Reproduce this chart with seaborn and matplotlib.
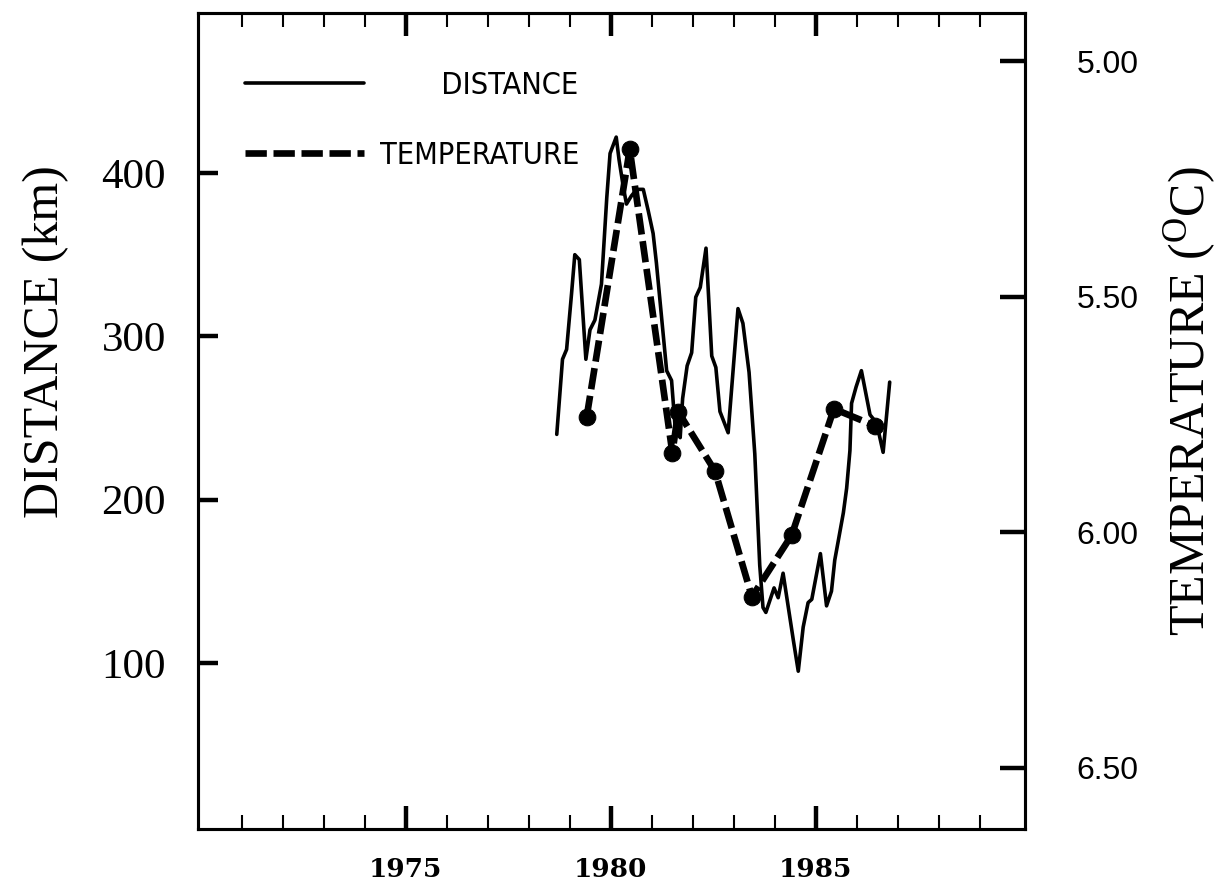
import numpy as np
import pandas as pd
import matplotlib
matplotlib.use('Agg')
import matplotlib.pyplot as plt
from matplotlib.lines import Line2D
from matplotlib.font_manager import FontProperties
import seaborn as sns

sns.set_style('white')
plt.rcParams['mathtext.fontset'] = 'custom'
plt.rcParams['mathtext.rm'] = 'Liberation Serif'
for k in ['text.color', 'axes.labelcolor', 'xtick.color', 'ytick.color', 'axes.edgecolor']:
    plt.rcParams[k] = 'black'

# distance series
years_dist = [1978.68, 1978.82, 1978.92, 1979.04, 1979.12, 1979.23, 1979.39, 1979.49, 1979.61, 1979.77,
              1979.90, 1979.98, 1980.13, 1980.20, 1980.30, 1980.38, 1980.50, 1980.63, 1980.79, 1980.91,
              1981.03, 1981.11, 1981.36, 1981.48, 1981.58, 1981.64, 1981.69, 1981.75, 1981.86, 1981.97,
              1982.07, 1982.18, 1982.32, 1982.46, 1982.56, 1982.66, 1982.86, 1983.10, 1983.22, 1983.37,
              1983.51, 1983.63, 1983.71, 1983.78, 1983.90, 1983.98, 1984.08, 1984.20, 1984.45, 1984.57,
              1984.69, 1984.81, 1984.90, 1985.02, 1985.11, 1985.26, 1985.38, 1985.46, 1985.54, 1985.67,
              1985.75, 1985.83, 1985.87, 1985.98, 1986.11, 1986.32, 1986.48, 1986.64, 1986.80]
distance_km = [240, 286, 292, 326, 350, 347, 286, 304, 310, 332,
               385, 412, 422, 408, 392, 381, 386, 390, 390, 377,
               363, 345, 279, 273, 240, 252, 238, 262, 282, 290,
               324, 330, 354, 288, 281, 254, 241, 317, 308, 278,
               228, 160, 134, 131, 140, 146, 140, 155, 114, 95,
               122, 137, 139, 155, 167, 135, 144, 163, 174, 192,
               207, 230, 259, 269, 279, 252, 247, 229, 272]

# temperature (annual points)
years_temp = [1979.41, 1980.46, 1981.50, 1981.64, 1982.54, 1983.44, 1984.41, 1985.44, 1986.44]
temperature_c = [5.755, 5.187, 5.832, 5.744, 5.870, 6.137, 6.006, 5.738, 5.774]

dist_ticks = [100, 200, 300, 400]
temp_ticks = [5.0, 5.5, 6.0, 6.5]
year_ticks = [1975, 1980, 1985]
minor_years = [y for y in range(1971, 1990) if y % 5 != 0]

dist_df = pd.DataFrame({'year': years_dist, 'distance': distance_km})
temp_df = pd.DataFrame({'year': years_temp, 'temp': temperature_c})

dash = (0, (3.2, 1.0))

fig = plt.figure(figsize=(12.23, 8.82), dpi=100)
ax = fig.add_axes([0.1619, 0.0601, 0.6762, 0.9252])
ax2 = ax.twinx()

sns.lineplot(data=dist_df, x='year', y='distance', ax=ax, color='black', lw=2.6,
             errorbar=None, legend=False)
sns.lineplot(data=temp_df, x='year', y='temp', ax=ax2, color='black', lw=4.8, linestyle=dash,
             marker='o', markersize=12, markerfacecolor='black', markeredgecolor='black',
             errorbar=None, legend=False)

ax.set_xlim(1969.93, 1990.1)
ax.set_ylim(-1.6, 498)
ax2.set_ylim(6.6295, 4.898)

ax.set_xticks(year_ticks)
ax.set_xticks(minor_years, minor=True)
ax.set_yticks(dist_ticks)
ax2.set_yticks(temp_ticks)
ax2.set_yticklabels(['%.2f' % t for t in temp_ticks])

ax.set_xlabel('')
ax.set_ylabel('DISTANCE (km)', fontsize=36, family='Liberation Serif')
ax2.set_ylabel(r'TEMPERATURE ($\mathregular{^O}$C)', fontsize=36, family='Liberation Serif')
ax.yaxis.set_label_coords(-0.184, 0.597)
ax.yaxis.label.set_va('center')
ax2.yaxis.set_label_coords(1.200, 0.524)
ax2.yaxis.label.set_va('center')
ax2.yaxis.label.set_rotation(90)

ax.tick_params(axis='x', which='major', direction='in', length=16.5, width=3.2,
               top=True, bottom=True, labelsize=19, pad=20)
ax.tick_params(axis='x', which='minor', direction='in', length=10, width=1.5, top=True, bottom=True)
ax.tick_params(axis='y', which='major', direction='in', length=14.4, width=3.2,
               left=True, right=False, labelsize=31, pad=23)
ax2.tick_params(axis='y', which='major', direction='in', length=18, width=3.2,
                right=True, left=False, labelsize=23, pad=37)

for lbl in ax.get_xticklabels():
    lbl.set_fontfamily('DejaVu Serif')
    lbl.set_fontweight('bold')
for lbl in ax.get_yticklabels():
    lbl.set_fontfamily('Liberation Serif')
for lbl in ax2.get_yticklabels():
    lbl.set_fontfamily('Liberation Sans')

for a in (ax, ax2):
    for sp in a.spines.values():
        sp.set_visible(True)
        sp.set_linewidth(2.2)
        sp.set_color('black')

# legend
h1 = Line2D([], [], color='black', lw=2.6)
h2 = Line2D([], [], color='black', lw=4.8, linestyle=dash)
legfont = FontProperties(family=['Liberation Sans Narrow', 'DejaVu Sans'], stretch='condensed', size=22)
ax2.legend([h1, h2], ['       DISTANCE', 'TEMPERATURE'], loc='upper left',
           bbox_to_anchor=(0.057, 0.929), frameon=False, borderaxespad=0, borderpad=0,
           handlelength=3.9, handletextpad=0.5, labelspacing=1.35, prop=legfont)

fig.savefig('out.png', dpi=100)
